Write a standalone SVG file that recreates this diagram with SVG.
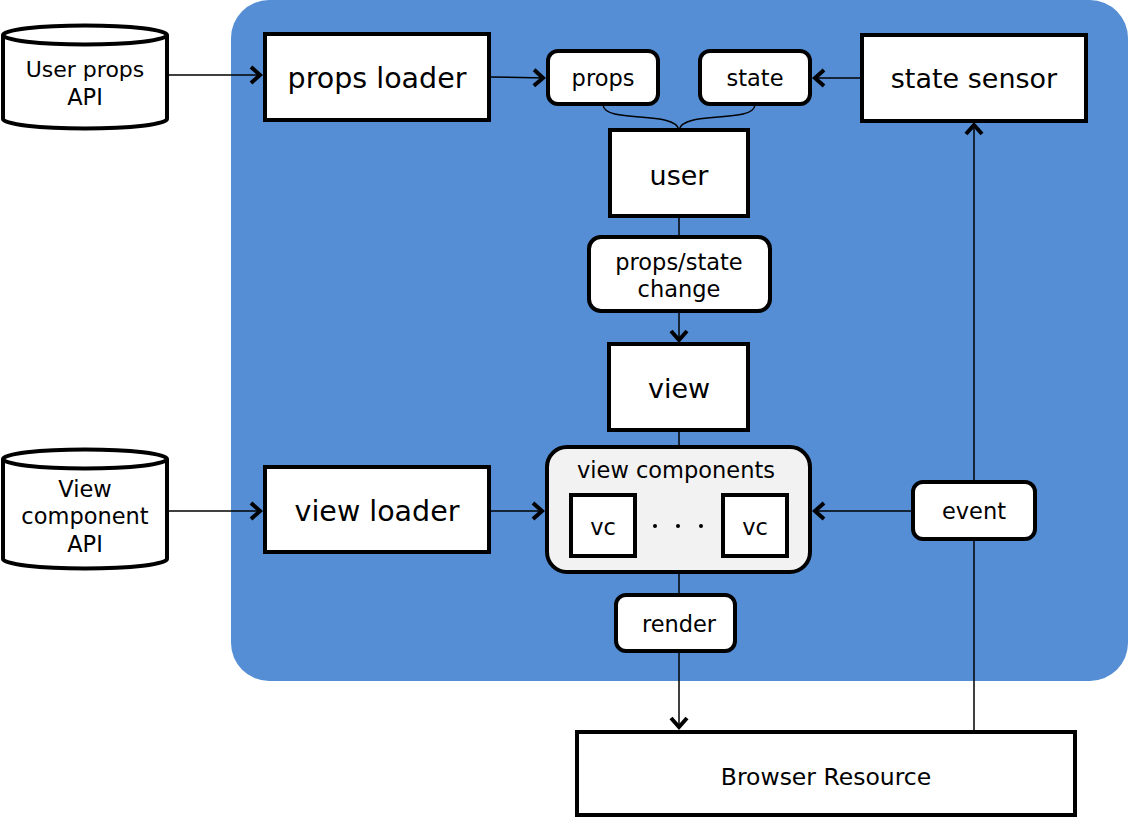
<svg xmlns="http://www.w3.org/2000/svg" width="1128" height="821" viewBox="0 0 1128 821">
<style>
.box{fill:#fff;stroke:#000;stroke-width:4}
.grp{fill:#f2f2f2;stroke:#000;stroke-width:4}
.big{font-family:"DejaVu Sans","Liberation Sans",sans-serif;font-size:27px;fill:#000;text-anchor:middle}
.ldr{font-size:28.5px}
.sm{font-family:"DejaVu Sans","Liberation Sans",sans-serif;font-size:22.5px;fill:#000;text-anchor:middle}
.ln{fill:none;stroke:#000;stroke-width:1.5}
.arr{marker-end:url(#ah)}
</style>
<defs>
<marker id="ah" markerUnits="userSpaceOnUse" markerWidth="24" markerHeight="24" viewBox="-14 -12 16 24" refX="0" refY="0" orient="auto">
<path d="M-11,-8 L-2,0 L-11,8" fill="none" stroke="#000" stroke-width="4" stroke-linejoin="miter"/>
</marker>
</defs>
<rect id="container" x="231" y="0" width="897" height="681" rx="38" fill="#558ed5"/>
<g id="connectors">
<line class="ln arr" x1="167" y1="75" x2="262" y2="75"/>
<line class="ln arr" x1="491" y1="77" x2="545" y2="78"/>
<line class="ln arr" x1="860" y1="78" x2="813" y2="78"/>
<path class="ln" d="M603,105 C605,124 675,110 679,130"/>
<path class="ln" d="M755,105 C753,124 683,110 679,130"/>
<line class="ln" x1="679" y1="217" x2="679" y2="236"/>
<line class="ln arr" x1="679" y1="312" x2="679" y2="342"/>
<line class="ln" x1="679" y1="431" x2="679" y2="446"/>
<line class="ln arr" x1="167" y1="511" x2="262" y2="511"/>
<line class="ln arr" x1="491" y1="511" x2="544" y2="511"/>
<line class="ln arr" x1="911" y1="511" x2="813" y2="511"/>
<line class="ln arr" x1="974" y1="730" x2="974" y2="123"/>
<line class="ln" x1="679" y1="573" x2="679" y2="594"/>
<line class="ln arr" x1="679" y1="652" x2="679" y2="729"/>
</g>
<g id="user-props-api">
<path class="box" d="M3,35 L3,119 A82,9.5 0 0,0 167,119 L167,35 A82,9.5 0 0,0 3,35 Z"/>
<path d="M3,35 A82,9.5 0 0,0 167,35" fill="none" stroke="#000" stroke-width="4"/>
<text class="sm" x="85" y="77" style="font-size:22px">User props</text>
<text class="sm" x="85" y="105">API</text>
</g>
<g id="view-component-api">
<path class="box" d="M3,459 L3,559 A82,9.5 0 0,0 167,559 L167,459 A82,9.5 0 0,0 3,459 Z"/>
<path d="M3,459 A82,9.5 0 0,0 167,459" fill="none" stroke="#000" stroke-width="4"/>
<text class="sm" x="85" y="497">View</text>
<text class="sm" x="85" y="524">component</text>
<text class="sm" x="85" y="552">API</text>
</g>
<g id="props-loader">
<rect class="box" x="265" y="34" width="224" height="86"/>
<text class="big ldr" x="377" y="88">props loader</text>
</g>
<g id="props">
<rect class="box" x="548" y="51" width="110" height="53" rx="10"/>
<text class="sm" x="603" y="86">props</text>
</g>
<g id="state">
<rect class="box" x="700" y="51" width="110" height="53" rx="10"/>
<text class="sm" x="755" y="86">state</text>
</g>
<g id="state-sensor">
<rect class="box" x="862" y="35" width="224" height="86"/>
<text class="big" x="974" y="88">state sensor</text>
</g>
<g id="user">
<rect class="box" x="610" y="130" width="138" height="86"/>
<text class="big" x="679" y="185">user</text>
</g>
<g id="props-state-change">
<rect class="box" x="589" y="237" width="181" height="74" rx="12"/>
<text class="sm" x="679" y="270">props/state</text>
<text class="sm" x="679" y="297">change</text>
</g>
<g id="view">
<rect class="box" x="609" y="344" width="139" height="86"/>
<text class="big" x="679" y="398">view</text>
</g>
<g id="view-components">
<rect class="grp" x="547" y="447" width="263" height="125" rx="20"/>
<text class="sm" x="676" y="478">view components</text>
<rect class="box" x="571" y="495" width="64" height="61"/>
<text class="sm" x="603" y="535">vc</text>
<circle cx="655" cy="526" r="2"/>
<circle cx="678" cy="526" r="2"/>
<circle cx="701" cy="526" r="2"/>
<rect class="box" x="723" y="495" width="64" height="61"/>
<text class="sm" x="755" y="535">vc</text>
</g>
<g id="view-loader">
<rect class="box" x="265" y="467" width="224" height="85"/>
<text class="big ldr" x="377" y="521">view loader</text>
</g>
<g id="event">
<rect class="box" x="913" y="482" width="122" height="57" rx="10"/>
<text class="sm" x="974" y="519">event</text>
</g>
<g id="render">
<rect class="box" x="616" y="595" width="119" height="56" rx="10"/>
<text class="sm" x="679" y="632">render</text>
</g>
<g id="browser-resource">
<rect class="box" x="577" y="732" width="498" height="83"/>
<text class="sm" x="826" y="785" style="font-size:23.5px">Browser Resource</text>
</g>
</svg>
